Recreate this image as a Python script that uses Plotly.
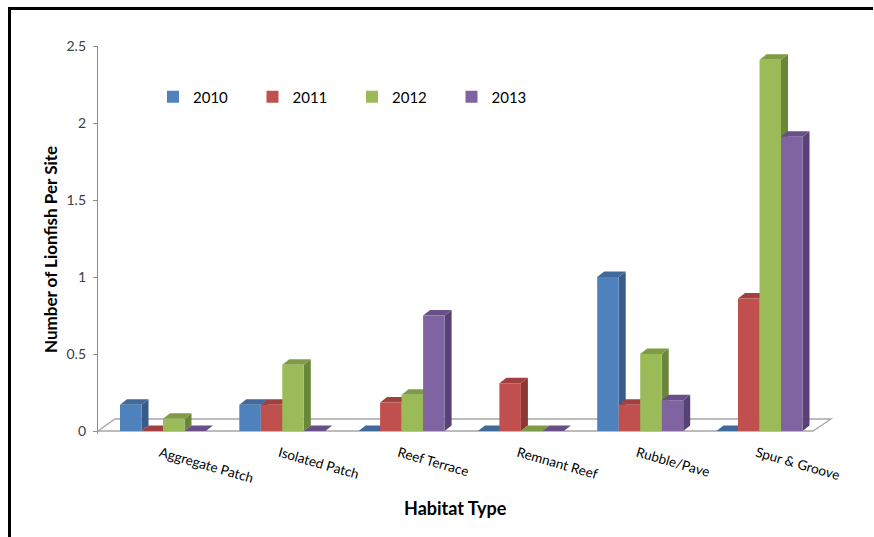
import plotly.graph_objects as go

# ---- data -------------------------------------------------------------
habitats = ["Aggregate Patch", "Isolated Patch", "Reef Terrace",
            "Remnant Reef", "Rubble/Pave", "Spur & Groove"]
years = ["2010", "2011", "2012", "2013"]
lionfish_2010 = [0.17, 0.17, 0.0, 0.0, 1.0, 0.0]
lionfish_2011 = [0.0, 0.17, 0.185, 0.31, 0.17, 0.86]
lionfish_2012 = [0.08, 0.43, 0.235, 0.0, 0.5, 2.41]
lionfish_2013 = [0.0, 0.0, 0.75, 0.0, 0.2, 1.91]
y_tick_values = [0, 0.5, 1, 1.5, 2, 2.5]
y_tick_labels = ["0", "0.5", "1", "1.5", "2", "2.5"]

series = [lionfish_2010, lionfish_2011, lionfish_2012, lionfish_2013]

# ---- styling ----------------------------------------------------------
front_colors = ["#4F81BD", "#C0504D", "#9BBB59", "#8064A2"]
side_colors = ["#365C89", "#8B3735", "#6A8638", "#574176"]
top_colors = ["#41699A", "#A1403E", "#7E9C46", "#684F88"]
FONT = "Lato"

W, H = 874, 537
PX_L, PX_R, PX_T, PX_B = 98, 835, 46, 434   # plot area in pixels
ZERO_PX = 431                                # pixel row of value 0
UNIT_Y = 154.0                               # pixels per lionfish
FIRST_PX, STEP_PX = 163.0, 119.3             # first cluster centre, spacing
BAR_PX = 21.5                                # front width of one bar
DEPTH_DX, DEPTH_DY = 7.0, 5.5                # bar depth in pixels

x_range = [(PX_L - FIRST_PX) / STEP_PX, (PX_R - FIRST_PX) / STEP_PX]
y_range = [-(PX_B - ZERO_PX) / UNIT_Y, (ZERO_PX - PX_T) / UNIT_Y]

bw = BAR_PX / STEP_PX
ddx = DEPTH_DX / STEP_PX
ddy = DEPTH_DY / UNIT_Y


def px_x(px):
    return (px - FIRST_PX) / STEP_PX


def px_y(py):
    return (ZERO_PX - py) / UNIT_Y


def paper_x(px):
    return (px - PX_L) / (PX_R - PX_L)


def paper_y(py):
    return (PX_B - py) / (PX_B - PX_T)


def poly(pts):
    return "M " + " L ".join(f"{x:.5f},{y:.5f}" for x, y in pts) + " Z"


fig = go.Figure()
shapes = []

# floor of the 3-D plot
floor = [(px_x(PX_L), 0), (px_x(813), 0), (px_x(831), px_y(419)), (px_x(115), px_y(419))]
shapes.append(dict(type="path", path=poly(floor), xref="x", yref="y",
                   fillcolor="white", line=dict(color="#A6A6A6", width=1.3),
                   layer="below"))

positions = list(range(len(habitats)))

# front faces as bars, depth faces (top and right side) as shapes
for i in positions:
    for k, vals in enumerate(series):
        v = vals[i]
        x0 = i + (k - 2) * bw
        x1 = x0 + bw
        if v > 0:
            side = [(x1, 0), (x1 + ddx, ddy), (x1 + ddx, v + ddy), (x1, v)]
            shapes.append(dict(type="path", path=poly(side), xref="x", yref="y",
                               fillcolor=side_colors[k], line=dict(width=0),
                               layer="below"))
        top = [(x0, v), (x0 + ddx, v + ddy), (x1 + ddx, v + ddy), (x1, v)]
        shapes.append(dict(type="path", path=poly(top), xref="x", yref="y",
                           fillcolor=top_colors[k], line=dict(width=0),
                           layer="below"))

for k, (name, vals) in enumerate(zip(years, series)):
    fig.add_trace(go.Bar(
        name=name, x=positions, y=vals,
        width=bw, offset=(k - 2) * bw,
        marker=dict(color=front_colors[k], line=dict(width=0)),
        hoverinfo="x+y",
    ))

# black frame around the chart (left and top edges)
shapes.append(dict(type="line", xref="paper", yref="paper",
                   x0=paper_x(9.5), x1=paper_x(9.5), y0=paper_y(7), y1=paper_y(540),
                   line=dict(color="black", width=3), layer="above"))
shapes.append(dict(type="line", xref="paper", yref="paper",
                   x0=paper_x(8), x1=paper_x(873), y0=paper_y(8.5), y1=paper_y(8.5),
                   line=dict(color="black", width=3), layer="above"))

annotations = [
    dict(text="<b>Number of Lionfish Per Site</b>", textangle=-90,
         x=paper_x(50), y=paper_y(250), xref="paper", yref="paper",
         showarrow=False, font=dict(family=FONT, size=17, color="black"),
         xanchor="center", yanchor="middle"),
    dict(text="<b>Habitat Type</b>",
         x=paper_x(455), y=paper_y(508), xref="paper", yref="paper",
         showarrow=False, font=dict(family=FONT, size=18, color="black"),
         xanchor="center", yanchor="middle"),
]

fig.update_layout(
    width=W, height=H,
    margin=dict(l=PX_L, r=W - PX_R, t=PX_T, b=H - PX_B, pad=0),
    paper_bgcolor="white", plot_bgcolor="white",
    barmode="overlay",
    shapes=shapes,
    annotations=annotations,
    showlegend=True,
    legend=dict(orientation="h", x=paper_x(153), y=paper_y(97),
                xanchor="left", yanchor="middle",
                font=dict(family=FONT, size=15, color="black"),
                entrywidth=54.5, entrywidthmode="pixels",
                traceorder="normal", bgcolor="rgba(0,0,0,0)",
                itemclick=False, itemdoubleclick=False),
    font=dict(family=FONT),
    xaxis=dict(range=x_range, tickvals=positions, ticktext=habitats,
               tickangle=16, showgrid=False, zeroline=False, showline=False,
               ticks="", tickfont=dict(family=FONT, size=13.5, color="black"),
               ticklabelstandoff=8, ticklabelshift=-3,
               fixedrange=True),
    yaxis=dict(range=y_range, tickvals=y_tick_values, ticktext=y_tick_labels,
               showgrid=False, zeroline=False, showline=True,
               linecolor="#8C8C8C", linewidth=1.3,
               ticks="outside", ticklen=4, tickcolor="#8C8C8C",
               tickfont=dict(family=FONT, size=14, color="#404040"),
               ticklabelstandoff=4,
               fixedrange=True),
)

fig.write_html("out.html")
